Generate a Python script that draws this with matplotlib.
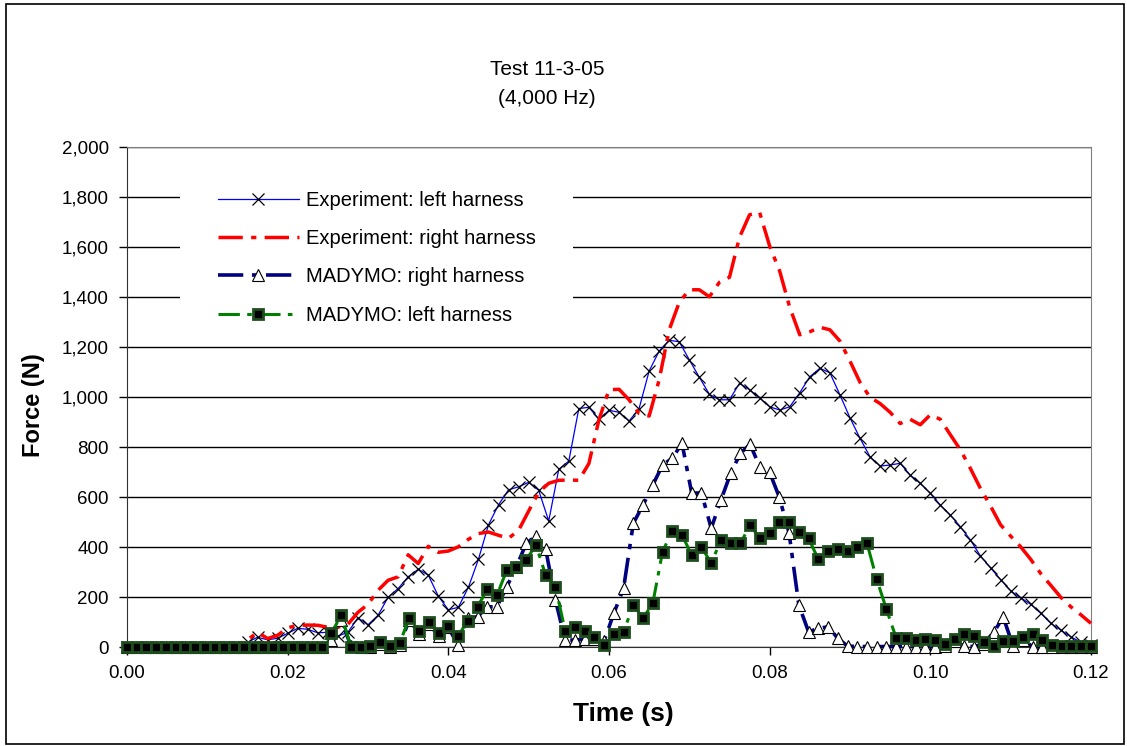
import numpy as np
import matplotlib.pyplot as plt
from matplotlib.patches import Rectangle
from matplotlib.ticker import FuncFormatter, MultipleLocator

plt.rcParams['font.family'] = ['Liberation Sans', 'DejaVu Sans']

# experiment channels are plotted every 5th sample of the 4,000 Hz record
t_exp = np.arange(97) * 0.00125
# MADYMO output times
t_mad = np.linspace(0.0, 0.12, 100)

exp_left = [0, 0, 0, 0, 0, 0, 0, 0, 0, 0, 0, 2,
            20, 40, 30, 36, 56, 76, 72, 58, 60, 45, 60, 118,
            90, 128, 200, 235, 282, 312, 289, 205, 150, 160, 240, 352,
            490, 570, 630, 642, 660, 628, 505, 712, 745, 955, 960, 912,
            948, 940, 905, 955, 1105, 1185, 1228, 1222, 1150, 1080, 1012, 990,
            990, 1056, 1030, 998, 962, 949, 962, 1018, 1082, 1116, 1098, 1010,
            918, 836, 762, 725, 729, 736, 689, 656, 616, 569, 529, 482,
            429, 365, 318, 271, 226, 198, 172, 136, 96, 69, 42, 20, 9]

exp_right = [0, 0, 0, 0, 0, 0, 0, 0, 0, 0, 0, 10,
             30, 60, 35, 48, 78, 88, 89, 88, 80, 80, 92, 140,
             172, 228, 268, 282, 370, 335, 404, 380, 385, 402, 432, 455,
             461, 448, 436, 468, 545, 620, 656, 668, 669, 668, 735, 910,
             1030, 1032, 990, 935, 925, 1070, 1270, 1380, 1430, 1430, 1402, 1460,
             1480, 1640, 1730, 1740, 1605, 1505, 1360, 1250, 1262, 1280, 1270, 1225,
             1145, 1060, 1000, 975, 940, 895, 912, 890, 930, 912, 850, 790,
             715, 635, 565, 490, 445, 402, 352, 295, 248, 200, 162, 130, 96]

mad_right = [0] * 21 + [
    30, 110, 5, 0, 3, 15, 3, 10, 110, 55, 95, 45,
    80, 9, 116, 122, 162, 162, 242, 322, 416, 445, 392, 189,
    29, 29, 32, 35, 25, 136, 236, 496, 569, 649, 729, 756,
    816, 616, 618, 476, 589, 696, 776, 812, 720, 700, 600, 456,
    169, 62, 76, 82, 36, 5, 3, 3, 3, 3, 3, 3,
    3, 3, 3, 5, 25, 5, 3, 15, 60, 120, 5, 30,
    3, 0, 0, 0, 0, 0, 0]

mad_left = [0] * 21 + [
    56, 130, 2, 2, 7, 20, 5, 16, 118, 65, 102, 56,
    85, 45, 106, 162, 232, 209, 308, 320, 350, 409, 289, 242,
    66, 82, 65, 42, 9, 52, 62, 169, 116, 176, 382, 466,
    449, 369, 402, 336, 429, 418, 416, 489, 436, 456, 502, 502,
    460, 436, 352, 385, 392, 386, 402, 416, 272, 152, 37, 37,
    29, 35, 30, 14, 33, 53, 45, 20, 7, 25, 24, 42,
    53, 29, 10, 7, 5, 6, 6]

dash_dot = (0, (7, 2.4, 1.5, 2.4))

fig = plt.figure(figsize=(11.27, 7.46), dpi=100)
ax = fig.add_axes([0.1127, 0.1323, 0.8553, 0.6703])

ax.plot(t_exp, exp_left, color='#0000ff', lw=0.9, marker='x', ms=9,
        mec='black', mew=0.9, clip_on=False, zorder=3,
        label='Experiment: left harness')
ax.plot(t_exp, exp_right, color='#ff0000', lw=2.5, ls=dash_dot,
        clip_on=False, zorder=3, label='Experiment: right harness')
ax.plot(t_mad, mad_right, color='#000080', lw=2.6, ls=dash_dot,
        marker='^', ms=9, mfc='white', mec='black', mew=0.8,
        clip_on=False, zorder=4, label='MADYMO: right harness')
ax.plot(t_mad, mad_left, color='#008000', lw=2.2, ls=dash_dot,
        marker='s', ms=6.5, mfc='black', mec='#1e4d1e', mew=2.0,
        clip_on=False, zorder=5, label='MADYMO: left harness')

ax.set_xlim(0, 0.12)
ax.set_ylim(0, 2000)
ax.xaxis.set_major_locator(MultipleLocator(0.02))
ax.yaxis.set_major_locator(MultipleLocator(200))
ax.xaxis.set_major_formatter(FuncFormatter(lambda v, p: f'{v:.2f}'))
ax.yaxis.set_major_formatter(FuncFormatter(lambda v, p: f'{v:,.0f}'))
ax.tick_params(direction='out', length=6, width=1, labelsize=13.5, pad=7)

ax.set_axisbelow(True)
ax.yaxis.grid(True, color='black', lw=1)
for side in ['left', 'bottom']:
    ax.spines[side].set_color('#303030')
for side in ['top', 'right']:
    ax.spines[side].set_color('#808080')

# white patch behind the legend hides the grid there
ax.add_patch(Rectangle((0.0066, 1260), 0.0489, 670, facecolor='white',
                       edgecolor='none', zorder=1))
ax.legend(loc='upper left', bbox_to_anchor=(0.0945, 0.913), frameon=False,
          fontsize=14.5, handlelength=4.0, handletextpad=0.35,
          labelspacing=0.96, borderpad=0, borderaxespad=0, numpoints=1)

ax.set_xlabel('Time (s)', fontsize=19, fontweight='bold')
ax.set_ylabel('Force (N)', fontsize=17, fontweight='bold')
ax.xaxis.set_label_coords(0.5145, -0.11)
ax.yaxis.set_label_coords(-0.085, 0.485)

fig.text(547 / 1127, 1 - 84 / 746, 'Test 11-3-05\n(4,000 Hz)', ha='center',
         va='center', fontsize=15, linespacing=1.65)

fig.add_artist(Rectangle((0.005, 0.003), 0.992, 0.992, transform=fig.transFigure,
                         fill=False, edgecolor='black', lw=1.2))

fig.savefig('out.png', dpi=100)
